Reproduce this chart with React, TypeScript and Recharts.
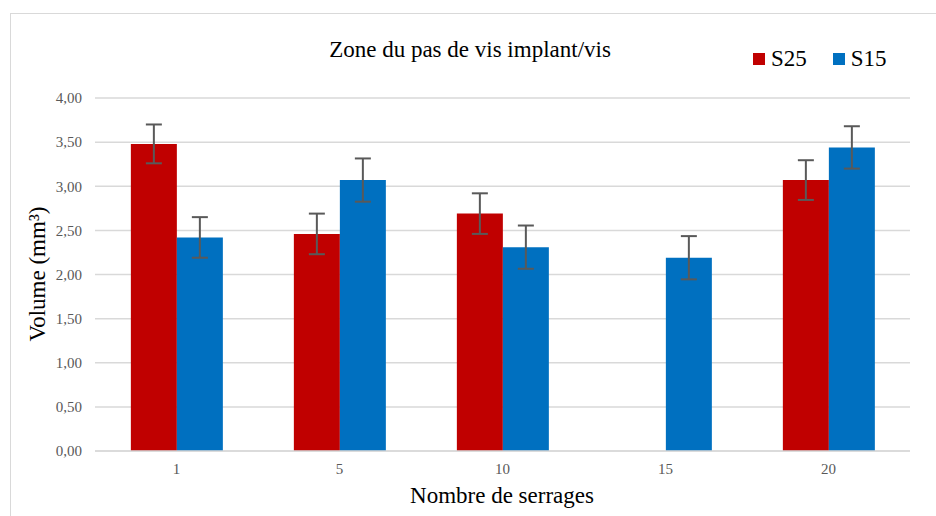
import { BarChart, Bar, XAxis, YAxis, CartesianGrid, ErrorBar } from 'recharts'

const categories = ['1', '5', '10', '15', '20']
const s25 = [3.48, 2.46, 2.69, null, 3.07]
const s25Err = [0.22, 0.23, 0.23, null, 0.225]
const s15 = [2.42, 3.07, 2.31, 2.19, 3.44]
const s15Err = [0.23, 0.245, 0.245, 0.245, 0.24]
const yTicks = [0, 0.5, 1, 1.5, 2, 2.5, 3, 3.5, 4]

const data = categories.map((c, i) => ({
  cat: c,
  S25: s25[i],
  s25Err: s25Err[i],
  S15: s15[i],
  s15Err: s15Err[i],
}))

const FONT = "'Liberation Serif', Tinos, 'Times New Roman', 'DejaVu Serif', 'Noto Serif', serif"
const RED = '#C00000'
const BLUE = '#0070C0'

const series = [
  { name: 'S25', color: RED },
  { name: 'S15', color: BLUE },
]

export default function App() {
  return (
    <div style={{ position: 'absolute', left: 0, top: 0, width: 936, height: 516, overflow: 'hidden', background: '#fff' }}>
      <div style={{ position: 'absolute', left: 10, top: 13, width: 980, height: 600, border: '1px solid #d9d9d9' }} />
      <div
        style={{
          position: 'absolute', left: 470, top: 38, transform: 'translateX(-50%)', whiteSpace: 'nowrap',
          fontFamily: FONT, fontSize: 23, lineHeight: '23px', color: '#000',
        }}
      >
        Zone du pas de vis implant/vis
      </div>
      <div style={{ position: 'absolute', left: 753, top: 47, display: 'flex', fontFamily: FONT, fontSize: 23, lineHeight: '23px', color: '#000' }}>
        {series.map(s => (
          <div key={s.name} style={{ display: 'flex', alignItems: 'center', marginRight: 26 }}>
            <span style={{ width: 12, height: 12, background: s.color, display: 'inline-block', marginRight: 6 }} />
            <span>{s.name}</span>
          </div>
        ))}
      </div>
      <div
        style={{
          position: 'absolute', left: 37, top: 274, transform: 'translate(-50%, -50%) rotate(-90deg)', whiteSpace: 'nowrap',
          fontFamily: FONT, fontSize: 23, lineHeight: '23px', color: '#000',
        }}
      >
        Volume (mm³)
      </div>
      <div
        style={{
          position: 'absolute', left: 502, top: 484, transform: 'translateX(-50%)', whiteSpace: 'nowrap',
          fontFamily: FONT, fontSize: 23, lineHeight: '23px', color: '#000',
        }}
      >
        Nombre de serrages
      </div>
      <BarChart
        width={936}
        height={516}
        data={data}
        margin={{ top: 98, right: 26, bottom: 35, left: 35 }}
        barCategoryGap="22%"
        barGap={0}
        style={{ position: 'absolute', left: 0, top: 0 }}
      >
        <CartesianGrid vertical={false} stroke="#d9d9d9" strokeWidth={1.5} />
        <XAxis
          dataKey="cat"
          tickLine={false}
          axisLine={{ stroke: '#d9d9d9', strokeWidth: 1.5 }}
          tick={{ fontSize: 15, fill: '#595959', fontFamily: FONT }}
          tickSize={6}
          tickMargin={6}
        />
        <YAxis
          width={60}
          domain={[0, 4]}
          ticks={yTicks}
          axisLine={false}
          tickLine={false}
          tickSize={6}
          tickMargin={7}
          tick={{ fontSize: 15, fill: '#595959', fontFamily: FONT }}
          tickFormatter={(v: number) => v.toFixed(2).replace('.', ',')}
        />
        <Bar dataKey="S25" fill={RED} isAnimationActive={false}>
          <ErrorBar dataKey="s25Err" width={8} stroke="#595959" strokeWidth={2} />
        </Bar>
        <Bar dataKey="S15" fill={BLUE} isAnimationActive={false}>
          <ErrorBar dataKey="s15Err" width={8} stroke="#595959" strokeWidth={2} />
        </Bar>
      </BarChart>
    </div>
  )
}
